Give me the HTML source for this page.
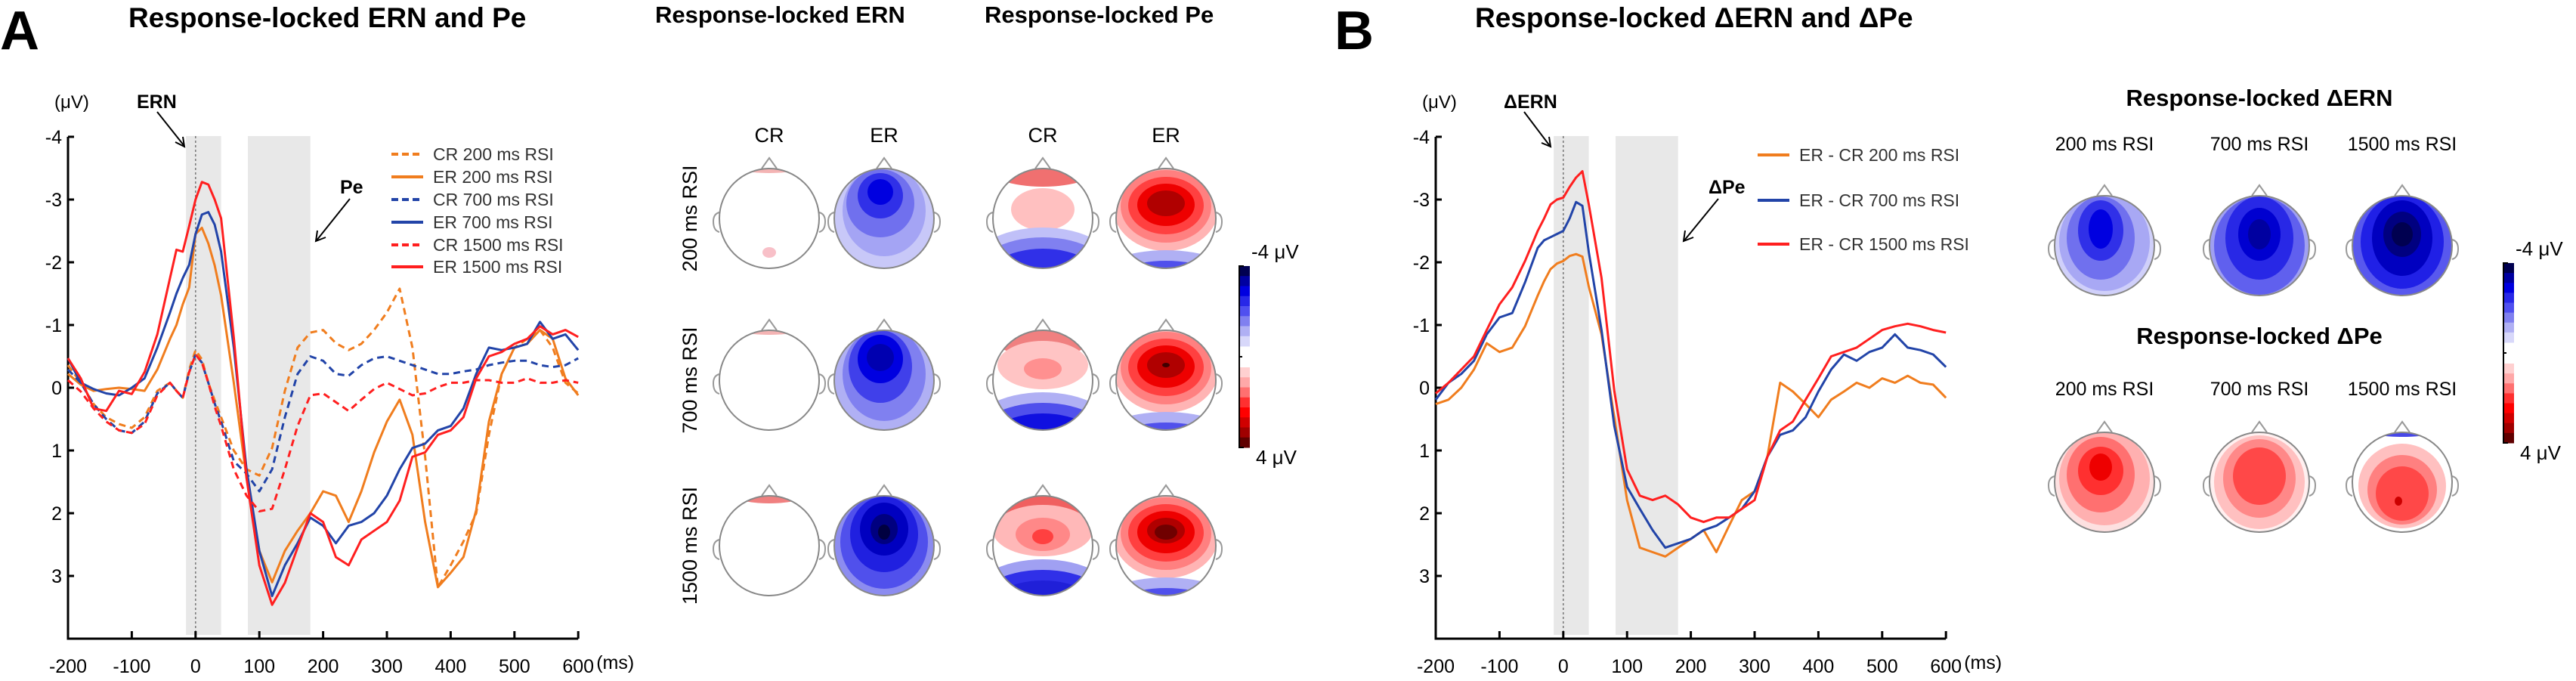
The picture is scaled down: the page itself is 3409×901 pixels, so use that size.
<!DOCTYPE html>
<html><head><meta charset="utf-8"><style>
html,body{margin:0;padding:0;background:#fff;}
svg{display:block;font-family:"Liberation Sans",sans-serif;}
</style></head><body>
<svg id="fig" width="3409" height="901" viewBox="0 0 3409 901" xmlns="http://www.w3.org/2000/svg">
<defs><clipPath id="headclip"><circle cx="0" cy="0" r="66"/></clipPath></defs>
<text x="0" y="65" font-size="72" font-weight="bold">A</text>
<text x="170" y="36" font-size="37" font-weight="bold">Response-locked ERN and Pe</text>
<text x="867" y="30" font-size="31" font-weight="bold">Response-locked ERN</text>
<text x="1303" y="30" font-size="31" font-weight="bold">Response-locked Pe</text>
<text x="1766" y="65" font-size="72" font-weight="bold">B</text>
<text x="1952" y="36" font-size="37" font-weight="bold">Response-locked ΔERN and ΔPe</text>

<g id="chartA"></g>
<g id="chartB"></g>
<g id="topos"></g>

<text x="72" y="143" font-size="24">(μV)</text>
<text x="181" y="143" font-size="25" font-weight="bold">ERN</text>
<line x1="208" y1="148" x2="243" y2="192" stroke="#000" stroke-width="2"/>
<path d="M232 188 L244 194 L242 181" fill="none" stroke="#000" stroke-width="2"/>
<text x="450" y="256" font-size="25" font-weight="bold">Pe</text>
<line x1="463" y1="263" x2="419" y2="318" stroke="#000" stroke-width="2"/>
<path d="M420 305 L418 319 L431 314" fill="none" stroke="#000" stroke-width="2"/>
<text x="1882" y="143" font-size="24">(μV)</text>
<text x="1990" y="143" font-size="25" font-weight="bold">ΔERN</text>
<line x1="2017" y1="148" x2="2051" y2="193" stroke="#000" stroke-width="2"/>
<path d="M2040 189 L2052 194 L2050 181" fill="none" stroke="#000" stroke-width="2"/>
<text x="2261" y="256" font-size="25" font-weight="bold">ΔPe</text>
<line x1="2274" y1="263" x2="2229" y2="318" stroke="#000" stroke-width="2"/>
<path d="M2230 305 L2228 319 L2241 314" fill="none" stroke="#000" stroke-width="2"/>
</svg>
<script>
const times=[-200,-180,-160,-140,-120,-100,-80,-60,-40,-30,-20,-10,0,10,20,30,40,60,80,100,120,140,160,180,200,220,240,260,280,300,320,340,360,380,400,420,440,460,480,500,520,540,560,580,600];
const crA200=[-0.36,-0.08,0.26,0.47,0.58,0.64,0.47,0.05,-0.08,0.05,0.16,-0.29,-0.6,-0.45,-0.08,0.2,0.47,1.0,1.3,1.4,0.96,0.05,-0.64,-0.88,-0.92,-0.71,-0.6,-0.7,-0.92,-1.2,-1.58,-0.64,1.1,3.18,2.83,2.45,2.0,0.75,-0.22,-0.64,-0.78,-0.92,-0.64,-0.08,0.09];
const erA200=[-0.22,-0.05,0.05,0.02,0,0.02,0.05,-0.29,-0.78,-1.0,-1.33,-1.6,-2.45,-2.55,-2.3,-1.95,-1.47,-0.08,1.44,2.6,3.1,2.6,2.28,2.0,1.65,1.72,2.14,1.65,1.03,0.54,0.19,0.75,2.14,3.18,2.95,2.7,1.95,0.54,-0.22,-0.64,-0.7,-0.92,-0.78,-0.15,0.12];
const crA700=[-0.29,-0.08,0.26,0.5,0.68,0.72,0.54,0.09,-0.08,0.05,0.16,-0.25,-0.53,-0.4,-0.08,0.25,0.54,1.17,1.37,1.65,1.3,0.47,-0.22,-0.5,-0.43,-0.22,-0.19,-0.36,-0.47,-0.5,-0.43,-0.36,-0.29,-0.22,-0.22,-0.26,-0.29,-0.36,-0.4,-0.43,-0.43,-0.36,-0.33,-0.36,-0.47];
const erA700=[-0.47,-0.08,0.02,0.09,0.12,0,-0.15,-0.64,-1.2,-1.5,-1.75,-1.96,-2.45,-2.76,-2.8,-2.6,-2.17,-0.64,1.3,2.6,3.32,2.83,2.48,2.07,2.2,2.48,2.2,2.14,2.0,1.72,1.3,0.96,0.89,0.68,0.61,0.33,-0.22,-0.64,-0.6,-0.64,-0.7,-1.05,-0.78,-0.85,-0.6];
const crA1500=[-0.12,0.06,0.33,0.54,0.68,0.72,0.58,0.12,-0.08,0.05,0.16,-0.25,-0.53,-0.4,-0.08,0.3,0.61,1.3,1.72,1.97,1.93,1.3,0.61,0.12,0.09,0.23,0.37,0.19,0.02,-0.08,0.02,0.12,0.09,-0.01,-0.08,-0.08,-0.12,-0.12,-0.08,-0.08,-0.15,-0.08,-0.08,-0.12,-0.08];
const erA1500=[-0.47,-0.15,0.33,0.37,0.05,0.1,-0.25,-0.85,-1.75,-2.2,-2.17,-2.58,-3.0,-3.28,-3.24,-3.0,-2.7,-0.8,1.44,2.83,3.46,3.11,2.55,2.0,2.14,2.7,2.83,2.42,2.28,2.14,1.8,1.1,1.03,0.75,0.68,0.47,-0.15,-0.5,-0.57,-0.7,-0.78,-0.98,-0.85,-0.92,-0.81];
const dB200=[0.26,0.19,0.0,-0.29,-0.71,-0.57,-0.64,-0.98,-1.47,-1.7,-1.89,-1.98,-2.02,-2.1,-2.13,-2.09,-1.61,-0.85,0.47,1.79,2.55,2.62,2.69,2.55,2.41,2.27,2.62,2.2,1.79,1.65,1.1,-0.08,0.06,0.26,0.47,0.19,0.06,-0.08,0.0,-0.15,-0.08,-0.19,-0.08,-0.05,0.16];
const dB700=[0.19,-0.08,-0.22,-0.43,-0.85,-1.12,-1.19,-1.68,-2.23,-2.35,-2.4,-2.45,-2.5,-2.7,-2.96,-2.9,-2.16,-0.92,0.61,1.58,1.93,2.27,2.55,2.48,2.41,2.27,2.2,2.07,1.93,1.65,1.1,0.75,0.68,0.47,0.06,-0.29,-0.53,-0.43,-0.57,-0.64,-0.85,-0.64,-0.6,-0.53,-0.33];
const dB1500=[0.09,-0.08,-0.29,-0.5,-0.92,-1.33,-1.6,-2.02,-2.5,-2.7,-2.92,-3.0,-3.03,-3.2,-3.35,-3.45,-2.92,-1.75,0.05,1.3,1.72,1.79,1.72,1.86,2.07,2.14,2.07,2.07,1.93,1.79,1.1,0.68,0.54,0.19,-0.15,-0.5,-0.57,-0.64,-0.78,-0.92,-0.98,-1.02,-0.98,-0.92,-0.88];
const xTicks=[-200,-100,0,100,200,300,400,500,600];
const yTicks=[-4,-3,-2,-1,0,1,2,3];
const legendA=["CR 200 ms RSI","ER 200 ms RSI","CR 700 ms RSI","ER 700 ms RSI","CR 1500 ms RSI","ER 1500 ms RSI"];
const legendB=["ER - CR 200 ms RSI","ER - CR 700 ms RSI","ER - CR 1500 ms RSI"];

const NS="http://www.w3.org/2000/svg";
const ORANGE="#f07d1e",BLUE="#2244a8",RED="#ff1f1f";
function mk(tag,attrs,parent){const e=document.createElementNS(NS,tag);for(const k in attrs)e.setAttribute(k,attrs[k]);parent.appendChild(e);return e;}
function yS(v){return 181+(v+4)*83;}

function drawChart(g,x0,seriesList,legend,legX,legYs,bands){
  const xS=ms=>x0+(ms+200)*0.844;
  bands.forEach(b=>{const r=mk('rect',{x:xS(b[0]),y:180,width:xS(b[1])-xS(b[0]),height:660,fill:'#e8e8e8'},g);
    
    });
  const z=mk('line',{x1:xS(0),x2:xS(0),y1:180,y2:840,stroke:'#777','stroke-width':1.5,'stroke-dasharray':'3,3'},g);
  
  
  const ax=mk('path',{d:`M${x0} 181 V845 H${xS(600)}`,fill:'none',stroke:'#000','stroke-width':3},g);
  
  
  yTicks.forEach(t=>{mk('line',{x1:x0,x2:x0+8,y1:yS(t),y2:yS(t),stroke:'#000','stroke-width':3},g);
    const tx=mk('text',{x:x0-8,y:yS(t)+9,'font-size':25,'text-anchor':'end'},g);tx.textContent=t;
    
    });
  xTicks.forEach(t=>{mk('line',{x1:xS(t),x2:xS(t),y1:845,y2:835,stroke:'#000','stroke-width':3},g);
    const tx=mk('text',{x:xS(t),y:890,'font-size':25,'text-anchor':'middle'},g);tx.textContent=t;
    
    });
  const ms=mk('text',{x:xS(600)+24,y:885,'font-size':25},g);ms.textContent='(ms)';
  
  
  seriesList.forEach((s,i)=>{
    const d=s.vals.map((v,j)=>(j?'L':'M')+xS(times[j]).toFixed(1)+' '+yS(v).toFixed(1)).join(' ');
    const p=mk('path',{d:d,fill:'none',stroke:s.color,'stroke-width':3,'stroke-linejoin':'round','stroke-dasharray':s.dash?'9,6':'none'},g);
    
    
    const ly=legYs[i];
    const ll=mk('line',{x1:legX,x2:legX+42,y1:ly,y2:ly,stroke:s.color,'stroke-width':4,'stroke-dasharray':s.dash?'9,5':'none'},g);
    
    
    const lt=mk('text',{x:legX+55,y:ly+8,'font-size':23,fill:'#333'},g);lt.textContent=legend[i];
    
    
  });
}
drawChart(document.getElementById('chartA'),90,[
 {vals:crA200,color:ORANGE,dash:true},{vals:erA200,color:ORANGE},
 {vals:crA700,color:BLUE,dash:true},{vals:erA700,color:BLUE},
 {vals:crA1500,color:RED,dash:true},{vals:erA1500,color:RED}],
 legendA,518,[204,234,264,294,324,353],[[-15,40],[82,180]]);
drawChart(document.getElementById('chartB'),1900,[
 {vals:dB200,color:ORANGE},{vals:dB700,color:BLUE},{vals:dB1500,color:RED}],
 legendB,2326,[205,265,323],[[-15,40],[82,180]]);

const T=document.getElementById('topos');
function topo(cx,cy,base,layers,name){
  const g=mk('g',{transform:`translate(${cx},${cy})`},T);
  
  
  mk('path',{d:'M-10 -66 L0 -80 L10 -66',fill:'none',stroke:'#999','stroke-width':2},g);
  mk('path',{d:'M-66 -8 q-8 2 -8 12 q0 12 8 14',fill:'none',stroke:'#999','stroke-width':2},g);
  mk('path',{d:'M66 -8 q8 2 8 12 q0 12 -8 14',fill:'none',stroke:'#999','stroke-width':2},g);
  const c=mk('g',{'clip-path':'url(#headclip)'},g);
  mk('circle',{cx:0,cy:0,r:66,fill:base},c);
  layers.forEach(l=>mk('ellipse',{cx:l[0],cy:l[1],rx:l[2],ry:l[3],fill:l[4]},c));
  mk('circle',{cx:0,cy:0,r:66,fill:'none',stroke:'#888','stroke-width':2},g);
}
const crCap=[[0,-78,62,18,'#f4b4b4']];
topo(1018,289,'#fff',crCap.concat([[0,45,9,7,'#f8c0c8']]),'topo-ern-cr-200');
topo(1018,503,'#fff',crCap,'topo-ern-cr-700');
topo(1018,722,'#fff',[[0,-76,62,20,'#f08080']],'topo-ern-cr-1500');
topo(1170,289,'#c8c8f8',[[0,-10,55,60,'#a4a4f4'],[-5,-20,45,45,'#7070ee'],[-5,-30,30,30,'#3030e8'],[-5,-35,17,17,'#0000e0']],'topo-ern-er-200');
topo(1170,503,'#b0b0f4',[[0,-8,55,62,'#8080f0'],[-5,-18,42,48,'#4040ea'],[-5,-28,30,32,'#0000e0'],[-5,-30,18,18,'#0000b0']],'topo-ern-er-700');
topo(1170,722,'#8c8cf0',[[0,-5,58,62,'#5050ec'],[0,-15,45,50,'#2020e0'],[0,-22,32,35,'#0000c0'],[0,-22,18,20,'#000080'],[0,-18,8,10,'#000040']],'topo-ern-er-1500');
const blueLow=[[0,70,100,58,'#c0c0f8'],[0,80,95,55,'#8080f0'],[0,92,85,52,'#3030e8']];
topo(1380,289,'#fff',[[0,-68,75,26,'#f07070'],[0,-12,42,28,'#ffc0c0']].concat(blueLow),'topo-pe-cr-200');
topo(1380,503,'#fff',[[0,-62,75,30,'#f08080'],[0,-20,60,32,'#ffc4c4'],[0,-15,25,14,'#ff9090'],[0,72,100,56,'#b0b0f4'],[0,84,95,54,'#5050ec'],[0,96,85,52,'#1010e0']],'topo-pe-cr-700');
topo(1380,722,'#fff',[[0,-58,80,30,'#f06060'],[0,-20,66,34,'#ffb8b8'],[0,-15,36,22,'#ff8888'],[0,-12,14,10,'#ff4040'],[0,74,100,56,'#a0a0f2'],[0,86,95,54,'#3030e8'],[0,98,85,52,'#2020d8']],'topo-pe-cr-1500');
const erPe=[[0,-15,70,58,'#ffb4b4'],[0,-16,60,48,'#ff8080'],[0,-17,50,38,'#ff4040'],[0,-18,38,28,'#ee0000'],[0,-20,25,17,'#b00000'],[0,82,95,40,'#b0b0f4'],[0,94,85,38,'#5050ec']];
topo(1543,289,'#fff',erPe,'topo-pe-er-200');
topo(1543,503,'#fff',erPe.concat([[0,-20,5,3,'#400000']]),'topo-pe-er-700');
topo(1543,722,'#fff',erPe.concat([[0,-18,15,10,'#700000']]),'topo-pe-er-1500');
topo(2785,325,'#d0d0fa',[[0,-5,60,65,'#a8a8f4'],[-5,-10,45,55,'#7070ee'],[-5,-20,30,40,'#3030e8'],[-5,-22,16,26,'#0000e0']],'topo-dern-200');
topo(2990,325,'#a0a0f2',[[0,0,60,65,'#6060ee'],[0,-10,45,55,'#2828e6'],[0,-15,28,35,'#0000d0'],[0,-15,15,20,'#0000a0']],'topo-dern-700');
topo(3179,325,'#5858ee',[[0,-5,55,62,'#2020e6'],[0,-10,40,50,'#0000c0'],[0,-15,25,30,'#000080'],[0,-15,14,16,'#000050']],'topo-dern-1500');
topo(2785,638,'#fde0e0',[[0,-5,60,62,'#ffb0b0'],[-5,-10,45,50,'#ff7070'],[-5,-15,30,32,'#ff3030'],[-5,-20,15,18,'#ee0000']],'topo-dpe-200');
topo(2990,638,'#fff0f0',[[0,0,60,62,'#ffc0c0'],[0,-5,48,52,'#ff8888'],[0,-8,35,38,'#ff4848']],'topo-dpe-700');
topo(3179,638,'#fff',[[0,-74,62,14,'#4848e8'],[0,5,58,56,'#ffc0c0'],[0,10,46,46,'#ff8080'],[0,15,35,36,'#ff4848'],[-5,25,5,6,'#cc0000']],'topo-dpe-1500');

function label(x,y,txt,size,name,bold,rot){
  const t=mk('text',{x:x,y:y,'font-size':size,'text-anchor':'middle','font-weight':bold?'bold':'normal'},T);
  if(rot)t.setAttribute('transform',`rotate(-90 ${x} ${y})`);
  t.textContent=txt;
  
  
}
[1018,1380].forEach(x=>label(x,188,'CR',27,'column-label-cr'));
[1170,1543].forEach(x=>label(x,188,'ER',27,'column-label-er'));
[[289,'200 ms RSI'],[503,'700 ms RSI'],[722,'1500 ms RSI']].forEach(r=>label(922,r[0],r[1],27,'row-label',false,true));
label(2990,140,'Response-locked ΔERN',31,'delta-ern-topo-title',true);
label(2990,455,'Response-locked ΔPe',31,'delta-pe-topo-title',true);
[[2785,'200 ms RSI'],[2990,'700 ms RSI'],[3179,'1500 ms RSI']].forEach(c=>{label(c[0],199,c[1],25,'delta-ern-column-label');label(c[0],523,c[1],25,'delta-pe-column-label');});

const cbBlue=['#000050','#0000a0','#0000e0','#2828e8','#5050f0','#8080f0','#b0b0f4','#d8d8fa'];
const cbRed=['#ffd0d0','#ffa8a8','#ff7070','#ff3030','#ff0000','#d00000','#a00000','#600000'];
function colorbar(x,top,bot,name){
  const g=mk('g',{},T);
  
  
  const mid=(top+bot)/2,h=(mid-top-14)/8;
  cbBlue.forEach((c,i)=>mk('rect',{x:x,y:top+i*h,width:14,height:h+0.5,fill:c},g));
  cbRed.forEach((c,i)=>mk('rect',{x:x,y:mid+14+i*h,width:14,height:h+0.5,fill:c},g));
  mk('path',{d:`M${x+6} ${top} H${x} V${bot} H${x+6} M${x} ${mid} H${x+4}`,fill:'none',stroke:'#000','stroke-width':2},g);
  const a=mk('text',{x:x+16,y:top-10,'font-size':26},g);a.textContent='-4 μV';
  const b=mk('text',{x:x+22,y:bot+22,'font-size':26},g);b.textContent='4 μV';
}
colorbar(1640,352,592,'colorbar-a');
colorbar(3313,348,586,'colorbar-b');
</script>
</body></html>
